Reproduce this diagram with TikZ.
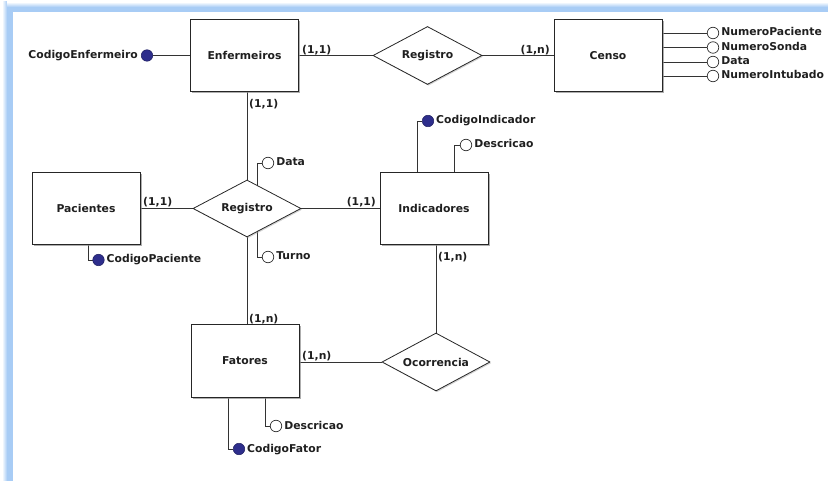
\documentclass[tikz,border=0pt]{standalone}
\usepackage{fontspec}
\setmainfont{DejaVu Sans}
\usetikzlibrary{shapes.geometric,shadows,backgrounds,calc}
\definecolor{keyblue}{RGB}{46,46,140}
\definecolor{frameblue}{RGB}{168,204,245}

\begin{document}
\begin{tikzpicture}[x=1pt,y=-1pt,
  every node/.style={font=\fontsize{10.8}{12}\selectfont\bfseries, text=black!88},
  entity/.style={draw=black!85, line width=0.9pt, fill=white,
    minimum width=108pt, minimum height=72pt, inner sep=0pt,
    drop shadow={shadow xshift=1.6pt, shadow yshift=-1.6pt, fill=black!45, opacity=0.7}},
  rel/.style={diamond, draw=black!85, line width=0.8pt, fill=white,
    minimum width=108pt, minimum height=58pt, inner sep=0pt, aspect=1.86,
    drop shadow={shadow xshift=1.2pt, shadow yshift=-1.2pt, fill=black!35, opacity=0.5}},
  keyatt/.style={circle, fill=keyblue, draw=keyblue!70!black, line width=0.5pt,
    minimum size=11.5pt, inner sep=0pt},
  att/.style={circle, fill=white, draw=black!80, line width=0.7pt,
    minimum size=11.5pt, inner sep=0pt},
  txt/.style={inner sep=1pt, text height=8pt, text depth=2pt},
  card/.style={inner sep=1pt},
  conn/.style={draw=black!80, line width=0.8pt}]

\useasboundingbox (0,0) rectangle (828,481);

% window frame
\shade[left color=white, right color=frameblue] (2,2) rectangle (7,481);
\fill[frameblue] (7,7) rectangle (12.5,481);
\shade[top color=white, bottom color=frameblue] (7,2) rectangle (828,7);
\fill[frameblue] (7,7) rectangle (828,12.5);

% entities
\node[entity] (enf)   at (244.5,55.5) {Enfermeiros};
\node[entity] (censo) at (608,55.5)   {Censo};
\node[entity] (pac)   at (86,208)     {Pacientes};
\node[entity] (ind)   at (434,208)    {Indicadores};
\node[entity, minimum height=73pt] (fat) at (245,360.5) {Fatores};

% relationships
\node[rel, minimum width=109pt] (reg1) at (427.5,55.5) {Registro};
\node[rel, minimum height=57pt] (reg2) at (247,208.5)  {Registro};
\node[rel] (oc) at (436,362) {Ocorrencia};

% attributes
\node[keyatt] (ckEnf) at (147,55.5) {};
\node[txt, anchor=east] at ($(ckEnf.west)+(-2,0)$) {CodigoEnfermeiro};

\node[att] (np) at (713,33)   {};
\node[att] (ns) at (713,47.5) {};
\node[att] (dt) at (713,62)   {};
\node[att] (ni) at (713,76)   {};
\node[txt, anchor=west] at ($(np.east)+(1,0)$) {NumeroPaciente};
\node[txt, anchor=west] at ($(ns.east)+(1,0)$) {NumeroSonda};
\node[txt, anchor=west] at ($(dt.east)+(1,0)$) {Data};
\node[txt, anchor=west] at ($(ni.east)+(1,0)$) {NumeroIntubado};

\node[att] (data)  at (268,163) {};
\node[txt, anchor=west] at ($(data.east)+(1,0)$) {Data};
\node[att] (turno) at (268,257) {};
\node[txt, anchor=west] at ($(turno.east)+(1,0)$) {Turno};

\node[keyatt] (ckPac) at (98.5,260) {};
\node[txt, anchor=west] at ($(ckPac.east)+(1,0)$) {CodigoPaciente};

\node[keyatt] (ckInd) at (428,121) {};
\node[txt, anchor=west] at ($(ckInd.east)+(1,0)$) {CodigoIndicador};
\node[att] (descInd) at (466,145) {};
\node[txt, anchor=west] at ($(descInd.east)+(1,0)$) {Descricao};

\node[att] (descFat) at (276,426) {};
\node[txt, anchor=west] at ($(descFat.east)+(1,0)$) {Descricao};
\node[keyatt] (ckFat) at (239,449) {};
\node[txt, anchor=west] at ($(ckFat.east)+(1,0)$) {CodigoFator};

% cardinalities
\node[card, anchor=south west] at (301,56)  {(1,1)};
\node[card, anchor=south east] at (551,56)  {(1,n)};
\node[card, anchor=north west] at (248,98)  {(1,1)};
\node[card, anchor=south west] at (142,208) {(1,1)};
\node[card, anchor=south east] at (377,208) {(1,1)};
\node[card, anchor=north west] at (437,251) {(1,n)};
\node[card, anchor=south west] at (248,325) {(1,n)};
\node[card, anchor=south west] at (301,362) {(1,n)};

% connectors
\begin{pgfonlayer}{background}
  \draw[conn] (ckEnf) -- (enf);
  \draw[conn] (enf) -- (reg1);
  \draw[conn] (reg1) -- (censo);
  \foreach \a in {np,ns,dt,ni} \draw[conn] (censo.east |- \a) -- (\a);
  \draw[conn] (enf.south -| reg2.north) -- (reg2);
  \draw[conn] (pac.east |- reg2) -- (reg2);
  \draw[conn] (reg2) -- (reg2 -| ind.west);
  \draw[conn] (reg2) -- (reg2 |- fat.north);
  \draw[conn] ($(reg2.center)+(10,0)$) |- (data);
  \draw[conn] ($(reg2.center)+(10,0)$) |- (turno);
  \draw[conn] ($(pac.south)+(2,0)$) |- (ckPac);
  \draw[conn] ($(ind.north)+(-17,0)$) |- (ckInd);
  \draw[conn] ($(ind.north)+(20,0)$) |- (descInd);
  \draw[conn] (oc.north |- ind.south) -- (oc);
  \draw[conn] (fat.east |- oc) -- (oc);
  \draw[conn] ($(fat.south)+(20,0)$) |- (descFat);
  \draw[conn] ($(fat.south)+(-17,0)$) |- (ckFat);
\end{pgfonlayer}
\end{tikzpicture}
\end{document}
